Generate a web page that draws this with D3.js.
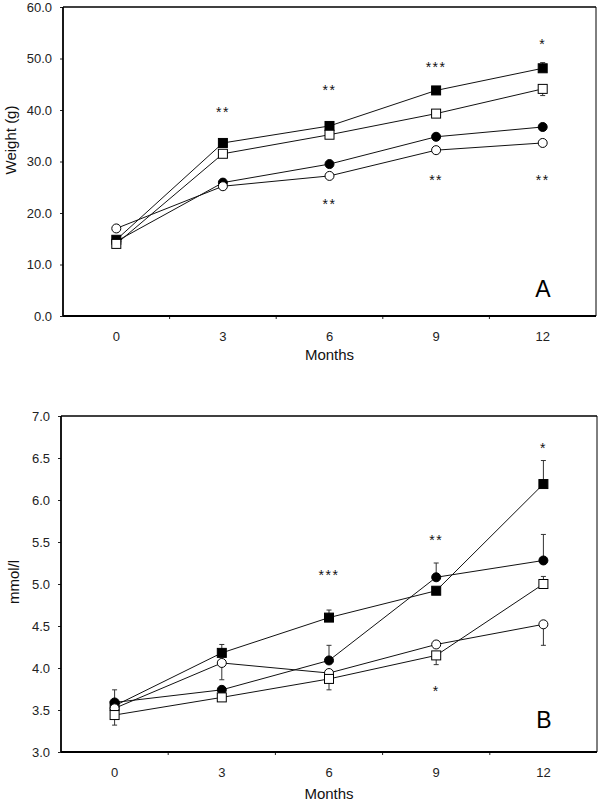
<!DOCTYPE html>
<html>
<head>
<meta charset="utf-8">
<script src="https://cdn.jsdelivr.net/npm/d3@7"></script>
<style>
  html, body { margin: 0; padding: 0; background: #fff; }
  svg { display: block; font-family: "Liberation Sans", Arial, sans-serif; }
</style>
</head>
<body>
<svg id="chart" width="601" height="803"></svg>
<script>
// ---------- DATA ----------
const months = ["0", "3", "6", "9", "12"];

// Panel A: body weight (g)
const weightTicks = [0, 10, 20, 30, 40, 50, 60];
const weightFilledSquare = [14.8, 33.6, 36.9, 43.8, 48.1];
const weightOpenSquare   = [14.0, 31.5, 35.2, 39.3, 44.1];
const weightFilledCircle = [14.5, 25.9, 29.5, 34.8, 36.7];
const weightOpenCircle   = [17.0, 25.2, 27.2, 32.2, 33.6];
// error-bar end values (null = no visible bar)
const weightErrFilledSquare = [null, null, null, null, 49.2];
const weightErrOpenSquare   = [null, null, null, null, 42.8];
const weightErrFilledCircle = [null, null, null, null, null];
const weightErrOpenCircle   = [null, null, null, null, null];
const weightStarMonths = ["3", "6", "9", "12", "6", "9", "12"];
const weightStarValues = [40.2, 44.4, 49.0, 53.4, 22.4, 26.9, 26.9];
const weightStarTexts  = ["**", "**", "***", "*", "**", "**", "**"];

// Panel B: mmol/l
const mmolTicks = [3.0, 3.5, 4.0, 4.5, 5.0, 5.5, 6.0, 6.5, 7.0];
const mmolFilledSquare = [3.55, 4.18, 4.60, 4.92, 6.19];
const mmolOpenSquare   = [3.44, 3.65, 3.87, 4.15, 5.00];
const mmolFilledCircle = [3.59, 3.74, 4.09, 5.08, 5.28];
const mmolOpenCircle   = [3.52, 4.06, 3.94, 4.28, 4.52];
const mmolErrFilledSquare = [null, 4.28, 4.69, null, 6.47];
const mmolErrOpenSquare   = [3.32, null, 3.74, 4.04, 5.09];
const mmolErrFilledCircle = [3.74, null, 4.27, 5.25, 5.59];
const mmolErrOpenCircle   = [null, 3.86, null, null, 4.27];
const mmolStarMonths = ["6", "9", "12", "9"];
const mmolStarValues = [5.14, 5.56, 6.66, 3.76];
const mmolStarTexts  = ["***", "**", "*", "*"];

// ---------- DRAWING ----------
const svg = d3.select("#chart");

function drawPanel(cfg) {
  const g = svg.append("g");
  const x = d3.scaleBand().domain(months).range([cfg.left, cfg.right]).paddingInner(0).paddingOuter(0);
  const y = d3.scaleLinear().domain(cfg.domain).range([cfg.bottom, cfg.top]);
  const cx = m => x(m) + x.bandwidth() / 2;

  // y axis ticks + labels
  const yAxis = d3.axisLeft(y).tickValues(cfg.ticks).tickFormat(d3.format(".1f"))
    .tickSize(3).tickPadding(8);
  const ya = g.append("g").attr("transform", `translate(${cfg.left},0)`).call(yAxis);
  ya.select(".domain").remove();
  ya.selectAll("text").attr("font-size", 13).attr("fill", "#222")
    .attr("font-family", "'Liberation Sans', Arial, sans-serif");
  ya.selectAll("line").attr("stroke", "#222");

  // x axis labels (band centers)
  const xAxis = d3.axisBottom(x).tickSize(0).tickPadding(16);
  const xa = g.append("g").attr("transform", `translate(0,${cfg.bottom})`).call(xAxis);
  xa.select(".domain").remove();
  xa.selectAll("text").attr("font-size", 13).attr("fill", "#222")
    .attr("font-family", "'Liberation Sans', Arial, sans-serif");

  // x ticks at band boundaries
  g.selectAll(".bt").data(months.slice(1)).enter().append("line")
    .attr("x1", d => x(d)).attr("x2", d => x(d))
    .attr("y1", cfg.bottom).attr("y2", cfg.bottom + 3)
    .attr("stroke", "#222").attr("stroke-width", 1);

  // frame
  g.append("line").attr("x1", cfg.left).attr("x2", cfg.right).attr("y1", cfg.top).attr("y2", cfg.top)
    .attr("stroke", "#000").attr("stroke-width", 1.3);
  g.append("line").attr("x1", cfg.right).attr("x2", cfg.right).attr("y1", cfg.top).attr("y2", cfg.bottom)
    .attr("stroke", "#000").attr("stroke-width", 1);
  g.append("line").attr("x1", cfg.left).attr("x2", cfg.left).attr("y1", cfg.top).attr("y2", cfg.bottom)
    .attr("stroke", "#000").attr("stroke-width", 1.8);
  g.append("line").attr("x1", cfg.left).attr("x2", cfg.right).attr("y1", cfg.bottom).attr("y2", cfg.bottom)
    .attr("stroke", "#000").attr("stroke-width", 1.8);

  // axis titles
  g.append("text").attr("x", (cfg.left + cfg.right) / 2).attr("y", cfg.monthsY).attr("dy", "0.35em")
    .attr("text-anchor", "middle").attr("font-size", 15).attr("fill", "#111").text("Months");
  g.append("text").attr("transform", `translate(${cfg.ylabX},${cfg.ylabY}) rotate(-90)`)
    .attr("dy", "0.35em").attr("text-anchor", "middle").attr("font-size", 15).attr("fill", "#111")
    .text(cfg.ylabel);

  // panel letter
  g.append("text").attr("x", cfg.letterX).attr("y", cfg.letterY).attr("dy", "0.36em")
    .attr("text-anchor", "middle").attr("font-size", 23).attr("fill", "#000").text(cfg.letter);

  const line = d3.line().x((d, i) => cx(months[i])).y(d => y(d));

  // error bars
  cfg.series.forEach(s => {
    const eg = g.append("g");
    s.err.forEach((e, i) => {
      if (e === null) return;
      const xx = cx(months[i]);
      eg.append("line").attr("x1", xx).attr("x2", xx).attr("y1", y(s.values[i])).attr("y2", y(e))
        .attr("stroke", "#333").attr("stroke-width", 1);
      eg.append("line").attr("x1", xx - 2.5).attr("x2", xx + 2.5).attr("y1", y(e)).attr("y2", y(e))
        .attr("stroke", "#333").attr("stroke-width", 1);
    });
  });
  // lines
  cfg.series.forEach(s => {
    g.append("path").datum(s.values).attr("d", line).attr("fill", "none")
      .attr("stroke", "#111").attr("stroke-width", 1);
  });
  // markers
  cfg.series.forEach(s => {
    const fill = s.filled ? "#000" : "#fff";
    if (s.shape === "square") {
      g.selectAll(null).data(s.values).enter().append("rect")
        .attr("x", (d, i) => cx(months[i]) - 4.5).attr("y", d => y(d) - 4.5)
        .attr("width", 9).attr("height", 9)
        .attr("fill", fill).attr("stroke", "#000").attr("stroke-width", 1);
    } else {
      g.selectAll(null).data(s.values).enter().append("circle")
        .attr("cx", (d, i) => cx(months[i])).attr("cy", d => y(d)).attr("r", 4.5)
        .attr("fill", fill).attr("stroke", "#000").attr("stroke-width", 1);
    }
  });

  // significance stars
  cfg.stars.months.forEach((m, i) => {
    g.append("text").attr("x", cx(m)).attr("y", y(cfg.stars.values[i]) + 8)
      .attr("text-anchor", "middle").attr("font-size", 14).attr("letter-spacing", 1.5)
      .attr("fill", "#111").text(cfg.stars.texts[i]);
  });
}

drawPanel({
  left: 63, right: 596, top: 7, bottom: 316,
  domain: [0, 60], ticks: weightTicks,
  monthsY: 355, ylabX: 11, ylabY: 140, ylabel: "Weight (g)",
  letter: "A", letterX: 543, letterY: 289,
  series: [
    { values: weightFilledCircle, err: weightErrFilledCircle, shape: "circle", filled: true },
    { values: weightOpenCircle,   err: weightErrOpenCircle,   shape: "circle", filled: false },
    { values: weightFilledSquare, err: weightErrFilledSquare, shape: "square", filled: true },
    { values: weightOpenSquare,   err: weightErrOpenSquare,   shape: "square", filled: false }
  ],
  stars: { months: weightStarMonths, values: weightStarValues, texts: weightStarTexts }
});

drawPanel({
  left: 61, right: 597, top: 416, bottom: 752,
  domain: [3, 7], ticks: mmolTicks,
  monthsY: 794, ylabX: 14, ylabY: 582, ylabel: "mmol/l",
  letter: "B", letterX: 544, letterY: 720,
  series: [
    { values: mmolFilledSquare, err: mmolErrFilledSquare, shape: "square", filled: true },
    { values: mmolFilledCircle, err: mmolErrFilledCircle, shape: "circle", filled: true },
    { values: mmolOpenCircle,   err: mmolErrOpenCircle,   shape: "circle", filled: false },
    { values: mmolOpenSquare,   err: mmolErrOpenSquare,   shape: "square", filled: false }
  ],
  stars: { months: mmolStarMonths, values: mmolStarValues, texts: mmolStarTexts }
});
</script>
</body>
</html>
